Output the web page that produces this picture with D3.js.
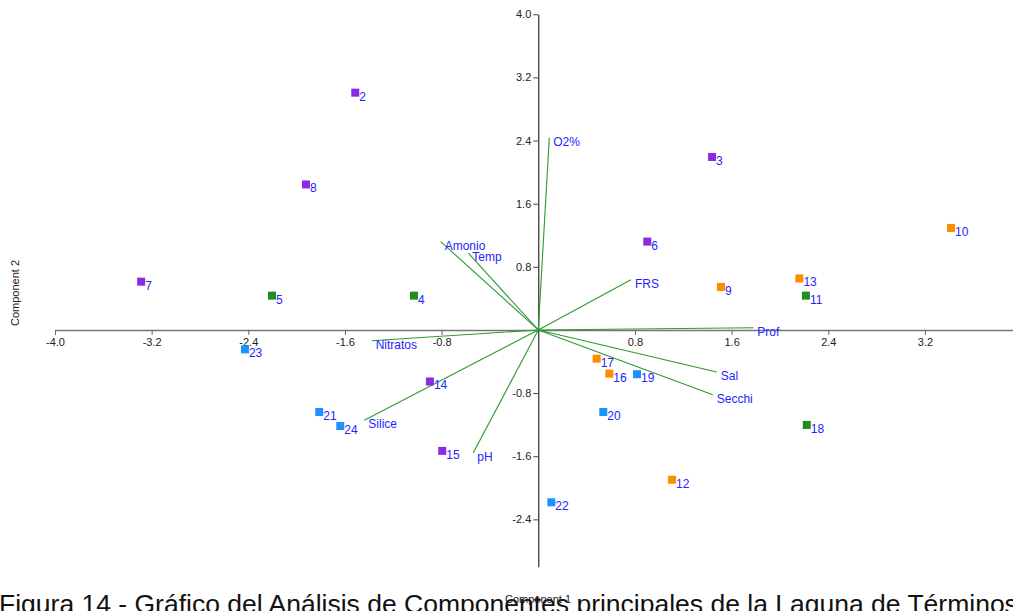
<!DOCTYPE html>
<html>
<head>
<meta charset="utf-8">
<script src="https://cdn.jsdelivr.net/npm/d3@7"></script>
<style>
  html, body { margin: 0; padding: 0; background: #fff; }
  svg { display: block; font-family: "Liberation Sans", Arial, Helvetica, sans-serif; }
</style>
</head>
<body>
<svg id="chart" width="1013" height="611"></svg>
<script>
// Station scores on the first two principal components
const stations = ["2","3","4","5","6","7","8","9","10","11","12","13","14","15","16","17","18","19","20","21","22","23","24"];
const pc1 = [-1.515, 1.438, -1.029, -2.204, 0.902, -3.287, -1.923, 1.512, 3.416, 2.215, 1.107, 2.161, -0.897, -0.795, 0.588, 0.483, 2.222, 0.817, 0.538, -1.813, 0.108, -2.428, -1.639];
const pc2 = [3.007, 2.192, 0.435, 0.435, 1.120, 0.612, 1.844, 0.545, 1.293, 0.435, -1.898, 0.653, -0.653, -1.532, -0.553, -0.364, -1.204, -0.561, -1.040, -1.040, -2.184, -0.246, -1.217];
const groups = ["a","a","b","b","a","a","a","c","c","b","c","c","a","a","c","c","b","d","d","d","d","d","d"];

// Variable loadings (biplot vectors)
const variables = ["O2%", "FRS", "Amonio", "Temp", "Prof", "Sal", "Secchi", "Nitratos", "Silice", "pH"];
const load1 = [0.091, 0.767, -0.808, -0.579, 1.780, 1.477, 1.444, -1.379, -1.440, -0.538];
const load2 = [2.436, 0.637, 1.120, 0.973, 0.028, -0.532, -0.822, -0.136, -1.145, -1.557];

// Axis ticks
const xTicks = [-4.0, -3.2, -2.4, -1.6, -0.8, 0.8, 1.6, 2.4, 3.2];
const yTicks = [-2.4, -1.6, -0.8, 0.8, 1.6, 2.4, 3.2, 4.0];

const groupColor = d3.scaleOrdinal()
  .domain(["a", "b", "c", "d"])
  .range(["#8a2be2", "#228b22", "#ff8c00", "#1e90ff"]);

const svg = d3.select("#chart");

const x = d3.scaleLinear().domain([-4, 4]).range([55, 1021.6]);
const y = d3.scaleLinear().domain([4, -3]).range([14.3, 566.7]);

const fmt = d => d.toFixed(1);

// Horizontal axis through the origin
const gx = svg.append("g")
  .attr("transform", `translate(0,${y(0)})`)
  .call(d3.axisBottom(x).tickValues(xTicks).tickFormat(fmt).tickSize(5).tickSizeOuter(0).tickPadding(3));
gx.select(".domain").attr("stroke", "#777").attr("stroke-width", 1.6);
gx.selectAll(".tick line").attr("stroke", "#666");
gx.selectAll(".tick text").attr("fill", "#222").style("font-size", "11px");

// Vertical axis through the origin
const gy = svg.append("g")
  .attr("transform", `translate(${x(0)},0)`)
  .call(d3.axisLeft(y).tickValues(yTicks).tickFormat(fmt).tickSize(5).tickSizeOuter(0).tickPadding(2));
gy.select(".domain").attr("stroke", "#000").attr("stroke-width", 1);
gy.selectAll(".tick line").attr("stroke", "#444");
gy.selectAll(".tick text").attr("fill", "#222").style("font-size", "11px");

// Loading vectors
const vecData = variables.map((v, i) => ({ name: v, a: load1[i], b: load2[i] }));
svg.append("g").selectAll("line")
  .data(vecData)
  .join("line")
  .attr("x1", x(0)).attr("y1", y(0))
  .attr("x2", d => x(d.a)).attr("y2", d => y(d.b))
  .attr("stroke", "#2e9a2e")
  .attr("stroke-width", 1.1);

svg.append("g").selectAll("text")
  .data(vecData)
  .join("text")
  .attr("x", d => x(d.a) + 4)
  .attr("y", d => y(d.b) + 8)
  .attr("fill", "#2424ff")
  .style("font-size", "12px")
  .text(d => d.name);

// Station points
const ptData = stations.map((s, i) => ({ name: s, a: pc1[i], b: pc2[i], g: groups[i] }));
const sz = 8;
svg.append("g").selectAll("rect")
  .data(ptData)
  .join("rect")
  .attr("x", d => x(d.a) - sz / 2)
  .attr("y", d => y(d.b) - sz / 2)
  .attr("width", sz).attr("height", sz)
  .attr("fill", d => groupColor(d.g));

svg.append("g").selectAll("text")
  .data(ptData)
  .join("text")
  .attr("x", d => x(d.a) + 4)
  .attr("y", d => y(d.b) + 8)
  .attr("fill", "#2424ff")
  .style("font-size", "12px")
  .text(d => d.name);

// Axis titles
svg.append("text")
  .attr("transform", `translate(19,293) rotate(-90)`)
  .attr("text-anchor", "middle")
  .attr("fill", "#222")
  .style("font-size", "11px")
  .text("Component 2");

// Caption
svg.append("text")
  .attr("x", -1)
  .attr("y", 613)
  .attr("fill", "#111")
  .style("font-size", "26.5px")
  .text("Figura 14 - Gráfico del Análisis de Componentes principales de la Laguna de Términos");

svg.append("text")
  .attr("x", 538)
  .attr("y", 603)
  .attr("text-anchor", "middle")
  .attr("fill", "#222")
  .style("font-size", "11px")
  .text("Component 1");
</script>
</body>
</html>
